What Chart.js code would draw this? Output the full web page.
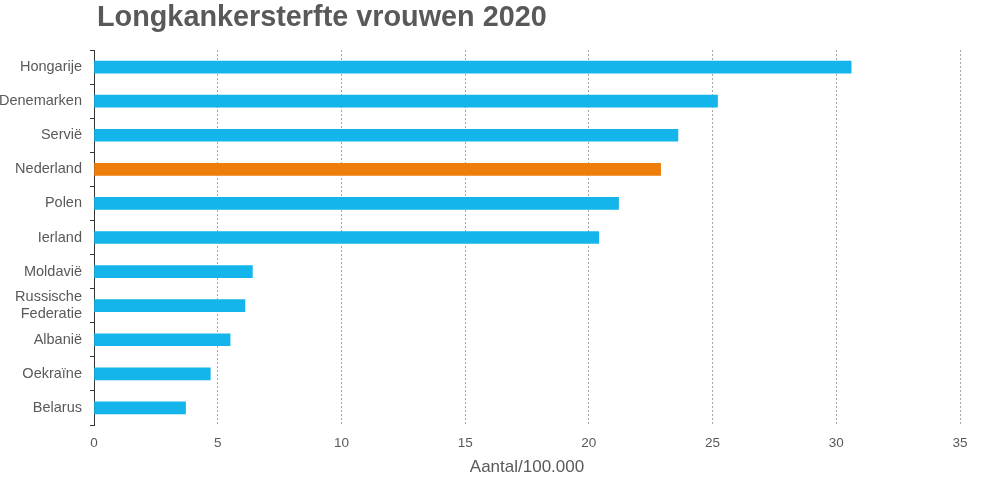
<!DOCTYPE html>
<html>
<head>
<meta charset="utf-8">
<script src="https://cdn.jsdelivr.net/npm/chart.js@4/dist/chart.umd.min.js"></script>
<style>
  html, body { margin: 0; padding: 0; background: #fff; }
  #wrap { width: 1000px; height: 487px; position: relative; }
</style>
</head>
<body>
<div id="wrap"><canvas id="chart"></canvas></div>
<script>
// ---- Data ---------------------------------------------------------------

const TITLE = 'Longkankersterfte vrouwen 2020';
const AXIS_TITLE = 'Aantal/100.000';

const countries = [
    'Hongarije', 'Denemarken', 'Servië', 'Nederland', 'Polen', 'Ierland',
    'Moldavië', ['Russische', 'Federatie'], 'Albanië', 'Oekraïne', 'Belarus',
];
const values = [30.6, 25.2, 23.6, 22.9, 21.2, 20.4, 6.4, 6.1, 5.5, 4.7, 3.7];
const highlight = 'Nederland';

const BLUE = '#13b5ea';
const ORANGE = '#ee7d0b';
const TEXT = '#595959';
const FONT = '"Liberation Sans", Arial, sans-serif';

// ---- Title drawn at the left edge of the plot area ----------------------

const titlePlugin = {
    id: 'leftTitle',
    afterDraw(chart) {
        const { ctx, chartArea } = chart;
        ctx.save();
        ctx.font = 'bold 28.8px ' + FONT;
        ctx.fillStyle = TEXT;
        ctx.textBaseline = 'middle';
        ctx.fillText(TITLE, chartArea.left + 3, 18);
        ctx.restore();
    },
};

// ---- Chart --------------------------------------------------------------

new Chart(document.getElementById('chart'), {
    type: 'bar',
    data: {
        labels: countries,
        datasets: [{
            data: values,
            backgroundColor: countries.map(c => c === highlight ? ORANGE : BLUE),
            barThickness: 12,
            borderWidth: 0,
        }],
    },
    options: {
        indexAxis: 'y',
        responsive: true,
        maintainAspectRatio: false,
        animation: false,
        layout: { padding: { top: 50, right: 40, left: 0, bottom: 9 } },
        plugins: {
            legend: { display: false },
            tooltip: { enabled: false },
        },
        scales: {
            x: {
                min: 0,
                max: 35,
                afterFit: (scale) => { scale.height = 53; },
                ticks: {
                    stepSize: 5,
                    color: TEXT,
                    font: { family: FONT, size: 13.5 },
                    padding: 10,
                },
                grid: {
                    color: '#a6a6a6',
                    lineWidth: 1,
                    drawTicks: false,
                },
                border: { display: false, dash: [2, 2] },
                title: {
                    display: true,
                    text: AXIS_TITLE,
                    color: TEXT,
                    font: { family: FONT, size: 17 },
                    padding: { top: 0, bottom: 0 },
                },
            },
            y: {
                afterFit: (scale) => { scale.width = 94; },
                ticks: {
                    autoSkip: false,
                    color: TEXT,
                    font: { family: FONT, size: 14.5 },
                    padding: 8,
                },
                grid: {
                    offset: true,
                    drawOnChartArea: false,
                    drawTicks: true,
                    tickLength: 4,
                    color: '#333',
                },
                border: { display: true, color: '#333', width: 1 },
            },
        },
    },
    plugins: [titlePlugin],
});
</script>
</body>
</html>
